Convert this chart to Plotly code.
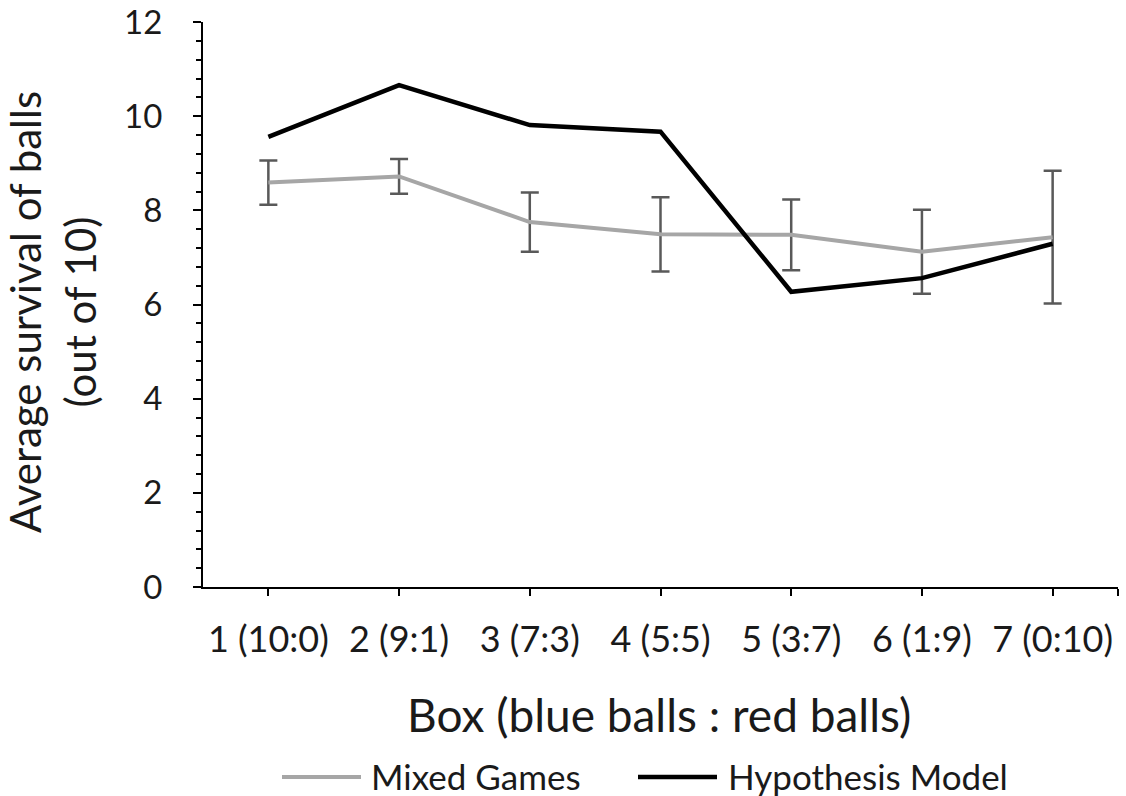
import plotly.graph_objects as go

# Boxes and their blue:red composition
box_labels = ["1 (10:0)", "2 (9:1)", "3 (7:3)", "4 (5:5)", "5 (3:7)", "6 (1:9)", "7 (0:10)"]
box_index = [0, 1, 2, 3, 4, 5, 6]

# Average number of balls surviving (out of 10)
mixed_games = [8.59, 8.72, 7.75, 7.49, 7.48, 7.12, 7.43]
mixed_games_err = [0.47, 0.37, 0.63, 0.79, 0.75, 0.89, 1.41]
hypothesis_model = [9.56, 10.66, 9.81, 9.67, 6.27, 6.56, 7.29]

FONT = "Lato"
TEXT = "#1a1a1a"
MIXED_COLOR = "#A6A6A6"
MODEL_COLOR = "#000000"

fig = go.Figure()

fig.add_trace(go.Scatter(
    x=box_index, y=mixed_games, mode="lines", name="Mixed Games",
    line=dict(color=MIXED_COLOR, width=4),
    error_y=dict(type="data", array=mixed_games_err, visible=True,
                 color="#595959", thickness=2.5, width=9),
))
fig.add_trace(go.Scatter(
    x=box_index, y=hypothesis_model, mode="lines", name="Hypothesis Model",
    line=dict(color=MODEL_COLOR, width=4.5),
))

W, H = 1126, 796
L, R, T, B = 203, 8, 22, 209
plot_w = W - L - R
plot_h = H - T - B


def px_x(px):
    return (px - L) / plot_w


def px_y(py):
    return (H - B - py) / plot_h


fig.update_layout(
    width=W, height=H,
    margin=dict(l=L, r=R, t=T, b=B),
    paper_bgcolor="white", plot_bgcolor="white",
    font=dict(family=FONT, color=TEXT, size=30),
    showlegend=False,
)

fig.update_xaxes(
    range=[-0.5, 6.5],
    tickmode="array",
    tickvals=box_index + [6.5],
    ticktext=box_labels + [""],
    ticks="outside", ticklen=7, tickwidth=2, tickcolor="#000000",
    showline=True, linecolor="#000000", linewidth=2,
    showgrid=False, zeroline=False, automargin=False,
    tickfont=dict(size=36, family=FONT, color=TEXT),
    ticklabelstandoff=13,
)
fig.update_yaxes(
    range=[0, 12], dtick=2, tick0=0,
    ticks="outside", ticklen=8, tickwidth=2, tickcolor="#000000",
    minor=dict(dtick=0.4, ticks="outside", ticklen=5, tickwidth=2, tickcolor="#000000"),
    showline=True, linecolor="#000000", linewidth=2,
    showgrid=False, zeroline=False, automargin=False,
    tickfont=dict(size=33, family=FONT, color=TEXT),
    ticklabelstandoff=24,
)

# Axis titles
fig.add_annotation(
    text="Average survival of balls<br>(out of 10)",
    xref="paper", yref="paper",
    x=px_x(52), y=px_y(312), xanchor="center", yanchor="middle",
    textangle=-90, showarrow=False,
    font=dict(size=42, family=FONT, color=TEXT),
)
fig.add_annotation(
    text="Box (blue balls : red balls)",
    xref="paper", yref="paper",
    x=px_x(659), y=px_y(714), xanchor="center", yanchor="middle",
    showarrow=False,
    font=dict(size=46, family=FONT, color=TEXT),
)

# Legend row beneath the axis title
legend_items = [
    ("Mixed Games", MIXED_COLOR, 4, 282, 361, 369),
    ("Hypothesis Model", MODEL_COLOR, 4.5, 638, 717, 726),
]
for label, color, width, x0, x1, tx in legend_items:
    fig.add_shape(
        type="line", xref="paper", yref="paper",
        x0=px_x(x0), x1=px_x(x1), y0=px_y(777), y1=px_y(777),
        line=dict(color=color, width=width),
    )
    fig.add_annotation(
        text=label, xref="paper", yref="paper",
        x=px_x(tx), y=px_y(776), xanchor="left", yanchor="middle",
        showarrow=False,
        font=dict(size=35, family=FONT, color=TEXT),
    )

fig.write_html("out.html")
